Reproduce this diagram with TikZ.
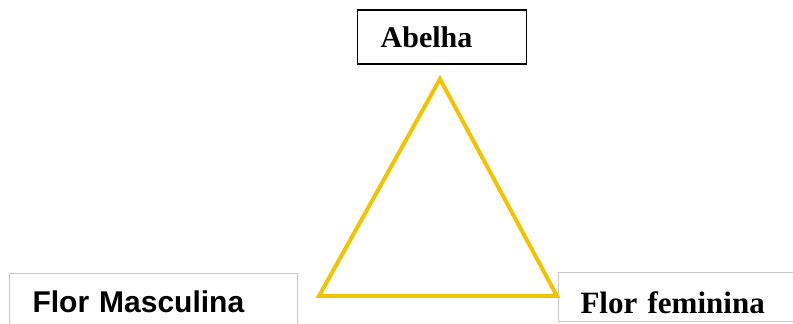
\documentclass[tikz,border=0pt]{standalone}
\usepackage{fontspec}
\newfontfamily\arialb{Liberation Sans}
\newfontfamily\timesb{Liberation Serif}
\usepackage{tikz}
\usetikzlibrary{positioning}
\definecolor{beegold}{RGB}{242,196,0}
\definecolor{boxgray}{RGB}{200,200,200}

\begin{document}
\begin{tikzpicture}[x=1pt,y=1pt,
    flowerbox/.style={draw=boxgray,line width=1pt,anchor=base west,inner ysep=0pt,inner xsep=23pt,align=left},
    beebox/.style={draw=black,line width=1.4pt,anchor=base west,inner ysep=0pt,inner xsep=23pt,align=left},
    pollen/.style={beegold,line width=4pt}]
      \useasboundingbox (0,0) rectangle (793,324);
      \clip (0,0) rectangle (793,324);
      % the three boxes
      \node[beebox,font=\timesb\bfseries\fontsize{30}{36}\selectfont,
            text width=123pt,text height=38pt,text depth=16pt] (abelha) at (357,276) {Abelha};
      \node[flowerbox,font=\arialb\bfseries\fontsize{30}{36}\selectfont,
            text width=242pt,text height=39pt,text depth=20pt] (masc) at (9,11) {Flor Masculina};
      \node[flowerbox,font=\timesb\bfseries\fontsize{31}{36}\selectfont,
            inner xsep=22pt,text width=260pt,text height=41pt,text depth=8pt] (fem) at (558,10) {Flor feminina};
      % the triangle
      \coordinate (top) at (440,245);
      \coordinate (left) at (319,28);
      \coordinate (right) at (557,28);
      \draw[pollen] (top) -- (right) -- (left) -- cycle;
\end{tikzpicture}
\end{document}
